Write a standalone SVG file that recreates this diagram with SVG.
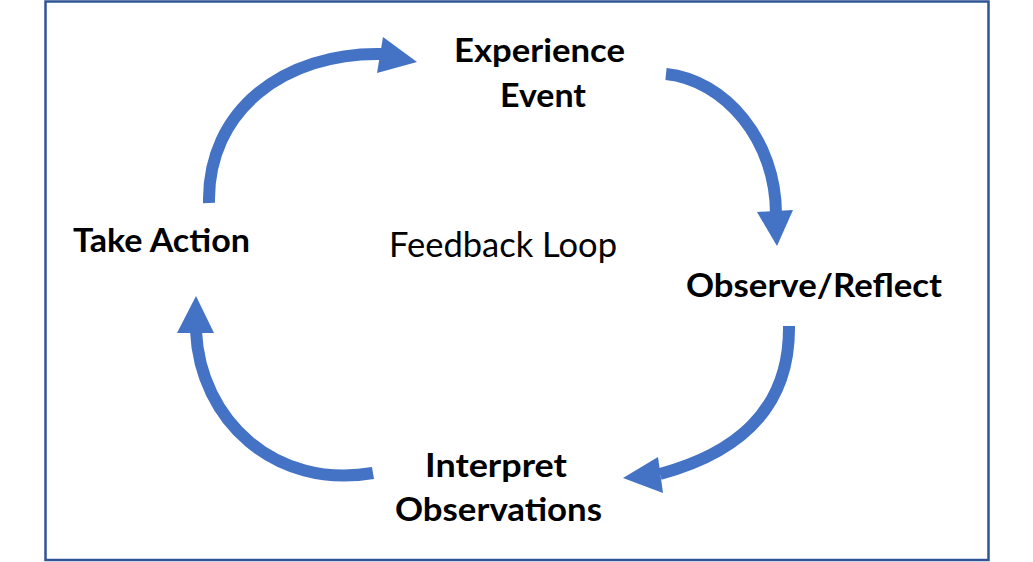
<svg xmlns="http://www.w3.org/2000/svg" width="1033" height="562" viewBox="0 0 1033 562">
<style>
.lbl{font-family:Lato,"Open Sans","Liberation Sans",sans-serif;font-weight:bold;font-size:33px;fill:#000}
.plain{font-family:Lato,"Open Sans","Liberation Sans",sans-serif;font-size:34px;fill:#000}
.shaft{fill:none;stroke:#4472C4;stroke-width:12}
.head{fill:#4472C4}
</style>
<rect x="0" y="0" width="1033" height="562" fill="#fff"/>
<rect x="45.5" y="1.5" width="943" height="558.5" fill="none" stroke="#2F5597" stroke-width="2.5"/>
<g id="connectors">
<path class="shaft" d="M209,203 C207,110 285,52 382,54"/>
<polygon class="head" points="383,37 417,62 377,73"/>
<path class="shaft" d="M666,74 C725,80 776,140 776,214"/>
<polygon class="head" points="757,212 793,210 777,246"/>
<path class="shaft" d="M789,326 C790,415 730,455 660,474"/>
<polygon class="head" points="658,457 623,478 663,493"/>
<path class="shaft" d="M373,473 C275,490 200,420 196,331"/>
<polygon class="head" points="177,333 196,296 214,333"/>
</g>
<g id="node-experience">
<text class="lbl" x="454" y="62" textLength="171" lengthAdjust="spacingAndGlyphs">Experience</text>
<text class="lbl" x="500" y="107" textLength="86" lengthAdjust="spacingAndGlyphs">Event</text>
</g>
<g id="node-observe">
<text class="lbl" x="686" y="297" textLength="256" lengthAdjust="spacingAndGlyphs">Observe/Reflect</text>
</g>
<g id="node-interpret">
<text class="lbl" x="425" y="477" textLength="142" lengthAdjust="spacingAndGlyphs">Interpret</text>
<text class="lbl" x="395" y="521" textLength="207" lengthAdjust="spacingAndGlyphs">Observations</text>
</g>
<g id="node-action">
<text class="lbl" x="73" y="252" textLength="177" lengthAdjust="spacingAndGlyphs">Take Action</text>
</g>
<g id="center">
<text class="plain" x="389" y="257" textLength="228" lengthAdjust="spacingAndGlyphs">Feedback Loop</text>
</g>
</svg>
